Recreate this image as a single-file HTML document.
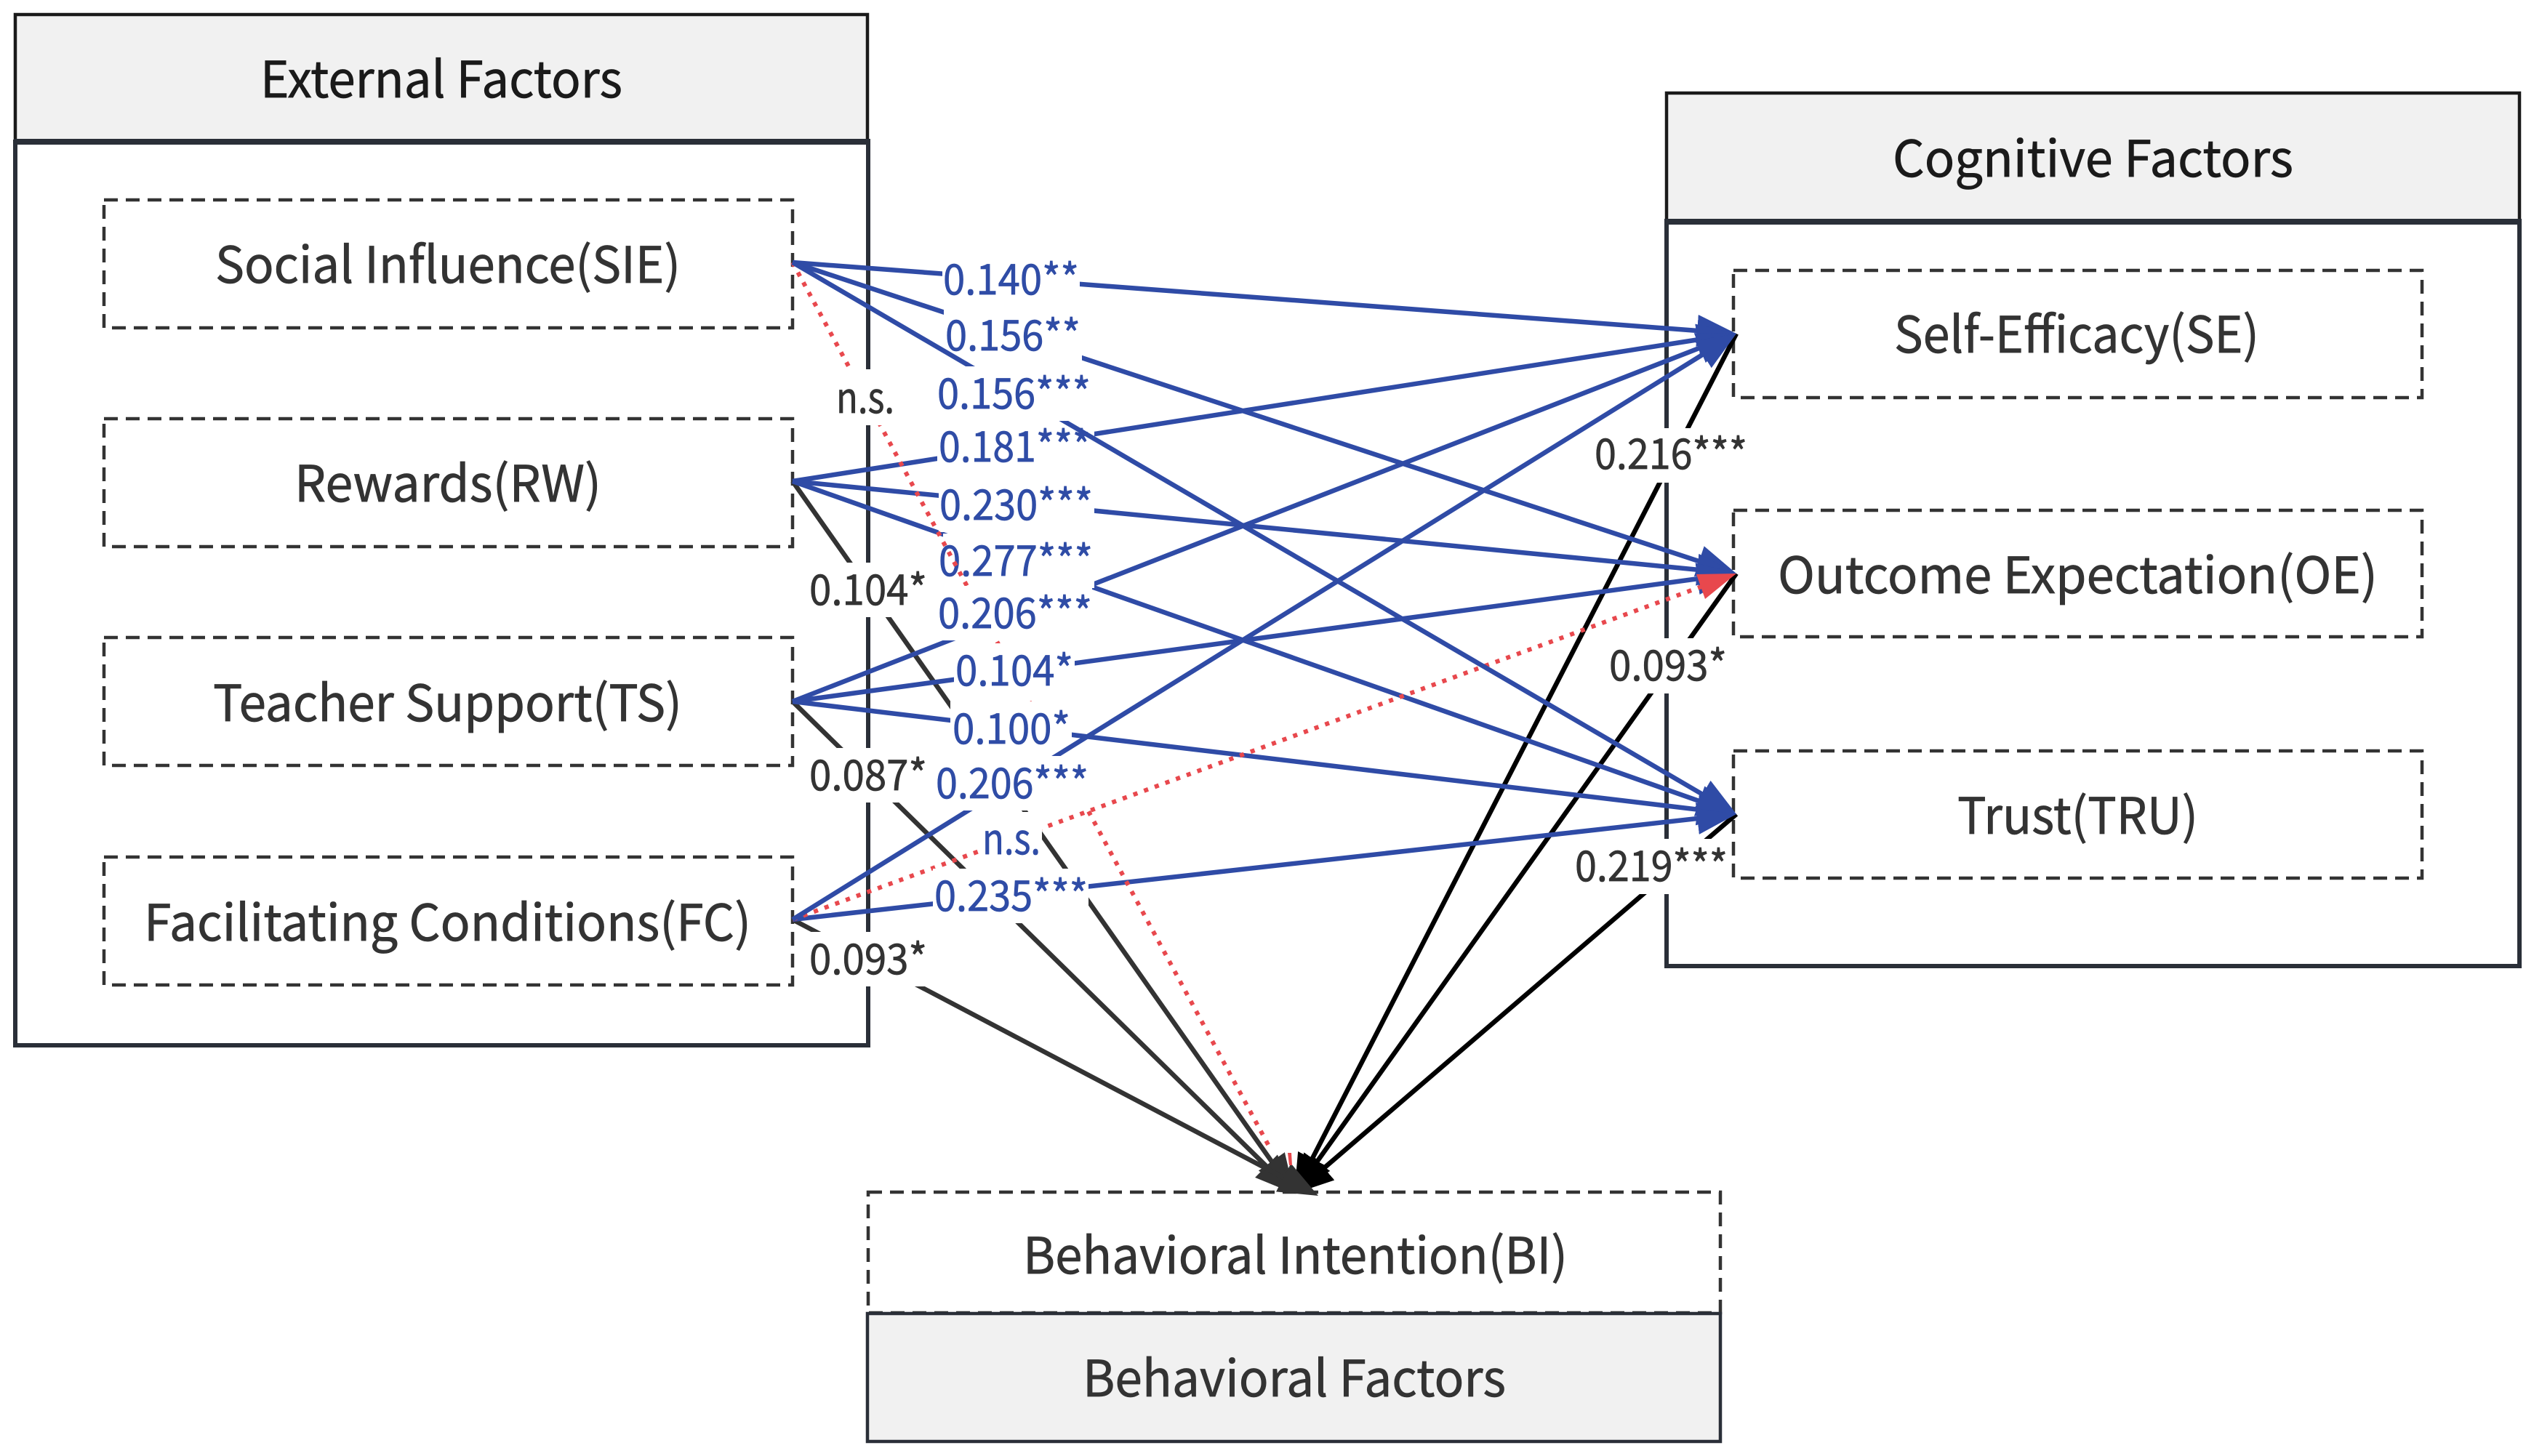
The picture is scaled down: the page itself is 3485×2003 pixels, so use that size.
<!DOCTYPE html>
<html><head><meta charset="utf-8"><title>Diagram</title>
<style>
html,body{margin:0;padding:0;background:#fff}
svg{display:block}
text{font-family:"Noto Sans CJK SC","Liberation Sans",sans-serif;stroke-width:.7}
.n{font-size:69px;fill:#333;stroke:#333}
.h{font-size:69px;fill:#1a1a1a;stroke:#1a1a1a}
.b{font-size:58px;fill:#2f4ca6;stroke:#2f4ca6}
.d{font-size:58px;fill:#333;stroke:#333}
.bl{stroke:#2f4ba6;stroke-width:6.5;fill:none}
.dk{stroke:#333;stroke-width:6.5;fill:none}
.k{stroke:#000;stroke-width:6.5;fill:none}
.r{stroke:#e8484d;stroke-width:6;fill:none;stroke-dasharray:6 9.6}
.box{fill:#fff;stroke:#333;stroke-width:4.5;stroke-dasharray:19 11}
.w{fill:#fff}
</style></head>
<body>
<svg xmlns="http://www.w3.org/2000/svg" width="3485" height="2003" viewBox="0 0 3485 2003">
<defs>
<marker id="mb" markerUnits="userSpaceOnUse" markerWidth="54" markerHeight="44" refX="44" refY="22" orient="auto"><path d="M0,0L54,22L0,44Z" fill="#2f4ba6"/></marker>
<marker id="md" markerUnits="userSpaceOnUse" markerWidth="54" markerHeight="44" refX="44" refY="22" orient="auto"><path d="M0,0L54,22L0,44Z" fill="#333"/></marker>
<marker id="mk" markerUnits="userSpaceOnUse" markerWidth="54" markerHeight="44" refX="44" refY="22" orient="auto"><path d="M0,0L54,22L0,44Z" fill="#000"/></marker>
</defs>
<rect width="3485" height="2003" fill="#fff"/>

<!-- External -->
<rect x="21" y="195" width="1173" height="1243" fill="#fff" stroke="#2a2f38" stroke-width="6"/>
<rect x="21" y="20" width="1172" height="175" fill="#f1f1f1" stroke="#1a1a1a" stroke-width="4.5"/>
<line x1="19" y1="195" x2="1197" y2="195" stroke="#2a2f38" stroke-width="8"/>
<rect class="box" x="143" y="275" width="947" height="176"/>
<rect class="box" x="143" y="576" width="947" height="176"/>
<rect class="box" x="143" y="877" width="947" height="176"/>
<rect class="box" x="143" y="1179" width="947" height="176"/>
<text class="h" x="358" y="134" textLength="498" lengthAdjust="spacingAndGlyphs">External Factors</text>
<text class="n" x="296" y="389" textLength="640" lengthAdjust="spacingAndGlyphs">Social Influence(SIE)</text>
<text class="n" x="405" y="690" textLength="422" lengthAdjust="spacingAndGlyphs">Rewards(RW)</text>
<text class="n" x="293" y="992" textLength="645" lengthAdjust="spacingAndGlyphs">Teacher Support(TS)</text>
<text class="n" x="198" y="1294" textLength="835" lengthAdjust="spacingAndGlyphs">Facilitating Conditions(FC)</text>

<!-- Cognitive -->
<rect x="2292" y="304" width="1173" height="1025" fill="#fff" stroke="#2a2f38" stroke-width="6"/>
<rect x="2292" y="128" width="1173" height="176" fill="#f1f1f1" stroke="#1a1a1a" stroke-width="4.5"/>
<line x1="2289" y1="305" x2="3468" y2="305" stroke="#2a2f38" stroke-width="8"/>
<rect class="box" x="2384" y="372" width="947" height="175"/>
<rect class="box" x="2384" y="702" width="947" height="174"/>
<rect class="box" x="2384" y="1033" width="947" height="175"/>
<text class="h" x="2603" y="243" textLength="551" lengthAdjust="spacingAndGlyphs">Cognitive Factors</text>
<text class="n" x="2605" y="485" textLength="502" lengthAdjust="spacingAndGlyphs">Self-Efficacy(SE)</text>
<text class="n" x="2445" y="816" textLength="825" lengthAdjust="spacingAndGlyphs">Outcome Expectation(OE)</text>
<text class="n" x="2692" y="1147" textLength="331" lengthAdjust="spacingAndGlyphs">Trust(TRU)</text>

<!-- Behavioral -->
<rect class="box" x="1194" y="1640" width="1172" height="166"/>
<rect x="1193" y="1807" width="1173" height="176" fill="#f1f1f1" stroke="#2a2f38" stroke-width="4.5"/>
<text class="n" x="1407" y="1752" textLength="749" lengthAdjust="spacingAndGlyphs">Behavioral Intention(BI)</text>
<text class="n" x="1489" y="1921" textLength="582" lengthAdjust="spacingAndGlyphs">Behavioral Factors</text>

<!-- Edges: black to BI -->
<line class="k" x1="2388" y1="459" x2="1784.6" y2="1633.1" marker-end="url(#mk)"/>
<line class="k" x1="2388" y1="789" x2="1785.8" y2="1633.9" marker-end="url(#mk)"/>
<line class="k" x1="2388" y1="1120" x2="1787.6" y2="1635.5" marker-end="url(#mk)"/>
<!-- dark to BI -->
<line class="dk" x1="1090" y1="662" x2="1774.2" y2="1633.8" marker-end="url(#md)"/>
<line class="dk" x1="1090" y1="965" x2="1772.9" y2="1635" marker-end="url(#md)"/>
<line class="dk" x1="1090" y1="1265" x2="1804.1" y2="1640.4" marker-end="url(#md)"/>
<!-- blue -->
<line class="bl" x1="1090" y1="361" x2="2378" y2="458.2" marker-end="url(#mb)"/>
<line class="bl" x1="1090" y1="662" x2="2378.1" y2="460.5" marker-end="url(#mb)"/>
<line class="bl" x1="1090" y1="965" x2="2378.7" y2="462.6" marker-end="url(#mb)"/>
<line class="bl" x1="1090" y1="361" x2="2378.5" y2="785.9" marker-end="url(#mb)"/>
<line class="bl" x1="1090" y1="662" x2="2378" y2="788" marker-end="url(#mb)"/>
<line class="bl" x1="1090" y1="965" x2="2378.1" y2="790.3" marker-end="url(#mb)"/>
<line class="bl" x1="1090" y1="662" x2="2378.6" y2="1116.7" marker-end="url(#mb)"/>
<line class="bl" x1="1090" y1="965" x2="2378.1" y2="1118.8" marker-end="url(#mb)"/>
<line class="bl" x1="1090" y1="1265" x2="2378.1" y2="1121.1" marker-end="url(#mb)"/>
<line class="r" x1="1090" y1="1265" x2="2340" y2="807"/>
<polygon points="2388,789 2333,790 2345,824" fill="#e8484d"/>

<!-- labels group 1 -->
<rect class="w" x="1296" y="347" width="189" height="75"/><text class="b" x="1297" y="405" textLength="187" lengthAdjust="spacingAndGlyphs">0.140**</text>
<rect class="w" x="1298" y="424" width="190" height="75"/><text class="b" x="1300" y="482" textLength="186" lengthAdjust="spacingAndGlyphs">0.156**</text>
<rect class="w" x="1289" y="577" width="216" height="75"/><text class="b" x="1291" y="635" textLength="209" lengthAdjust="spacingAndGlyphs">0.181***</text>
<rect class="w" x="1291" y="657" width="214" height="75"/><text class="b" x="1292" y="715" textLength="211" lengthAdjust="spacingAndGlyphs">0.230***</text>
<rect class="w" x="1297" y="734" width="208" height="75"/><text class="b" x="1291" y="792" textLength="212" lengthAdjust="spacingAndGlyphs">0.277***</text>
<rect class="w" x="1113" y="774" width="162" height="75"/><text class="d" x="1113" y="832" textLength="162" lengthAdjust="spacingAndGlyphs">0.104*</text>
<rect class="w" x="1113" y="1029" width="162" height="75"/><text class="d" x="1113" y="1087" textLength="162" lengthAdjust="spacingAndGlyphs">0.087*</text>
<rect class="w" x="1113" y="1282" width="162" height="75"/><text class="d" x="1113" y="1340" textLength="162" lengthAdjust="spacingAndGlyphs">0.093*</text>
<rect class="w" x="2193" y="589" width="210" height="75"/><text class="d" x="2193" y="645" textLength="210" lengthAdjust="spacingAndGlyphs">0.216***</text>
<rect class="w" x="2213" y="878" width="162" height="76"/><text class="d" x="2213" y="936" textLength="162" lengthAdjust="spacingAndGlyphs">0.093*</text>
<rect class="w" x="2166" y="1154" width="210" height="76"/><text class="d" x="2166" y="1212" textLength="210" lengthAdjust="spacingAndGlyphs">0.219***</text>

<!-- later edges -->
<line class="r" x1="1090" y1="361" x2="1748" y2="1582"/>
<polygon points="1771,1586 1776,1586 1777,1603 1773,1603" fill="#e8484d"/>
<line class="bl" x1="1090" y1="361" x2="2379.4" y2="1115" marker-end="url(#mb)"/>

<!-- labels group 2 -->
<rect class="w" x="1150" y="508" width="80" height="77"/><text class="d" x="1150" y="568" textLength="80" lengthAdjust="spacingAndGlyphs">n.s.</text>
<rect class="w" x="1289" y="504" width="211" height="75"/><text class="b" x="1289" y="562" textLength="211" lengthAdjust="spacingAndGlyphs">0.156***</text>
<rect class="w" x="1290" y="806" width="212" height="75"/><text class="b" x="1290" y="864" textLength="212" lengthAdjust="spacingAndGlyphs">0.206***</text>
<rect class="w" x="1312" y="885" width="166" height="75"/><text class="b" x="1314" y="943" textLength="162" lengthAdjust="spacingAndGlyphs">0.104*</text>
<rect class="w" x="1307" y="965" width="167" height="75"/><text class="b" x="1310" y="1023" textLength="162" lengthAdjust="spacingAndGlyphs">0.100*</text>

<line class="bl" x1="1090" y1="1265" x2="2379.5" y2="464.3" marker-end="url(#mb)"/>

<rect class="w" x="1287" y="1040" width="210" height="75"/><text class="b" x="1287" y="1098" textLength="210" lengthAdjust="spacingAndGlyphs">0.206***</text>
<rect class="w" x="1349" y="1117" width="84" height="75"/><text class="b" x="1351" y="1175" textLength="80" lengthAdjust="spacingAndGlyphs">n.s.</text>
<rect class="w" x="1283" y="1195" width="214" height="75"/><text class="b" x="1285" y="1253" textLength="211" lengthAdjust="spacingAndGlyphs">0.235***</text>
</svg>
</body></html>
